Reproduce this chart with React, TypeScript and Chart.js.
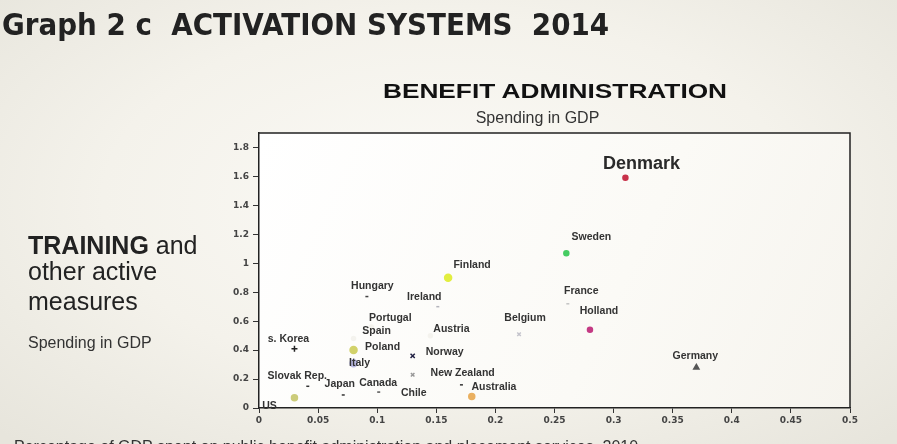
import React, { useEffect, useRef } from "react";
import { Chart, registerables } from "chart.js";

Chart.register(...registerables);

// ---------- data ----------
const countries = [
  "Denmark", "Sweden", "France", "Holland", "Belgium", "Germany", "Finland", "Ireland",
  "Hungary", "Portugal", "Spain", "Austria", "s. Korea", "Poland", "Italy", "Norway",
  "New Zealand", "Australia", "Chile", "Canada", "Japan", "Slovak Rep.", "US",
];
// benefit administration spending (% GDP) - x
const benefitAdmin = [
  0.31, 0.26, 0.26, 0.28, 0.22, 0.37, 0.16, 0.15,
  0.09, 0.095, 0.08, 0.145, 0.03, 0.08, 0.08, 0.13,
  0.13, 0.17, 0.18, 0.10, 0.07, 0.04, 0.03,
];
// training and other active measures (% GDP) - y
const trainingSpend = [
  1.59, 1.07, 0.72, 0.54, 0.51, 0.28, 0.90, 0.70,
  0.77, 0.56, 0.48, 0.50, 0.41, 0.40, 0.31, 0.36,
  0.23, 0.16, 0.08, 0.11, 0.09, 0.15, 0.07,
];
const xTickValues = [0, 0.05, 0.1, 0.15, 0.2, 0.25, 0.3, 0.35, 0.4, 0.45, 0.5];
const yTickValues = [0, 0.2, 0.4, 0.6, 0.8, 1, 1.2, 1.4, 1.6, 1.8];

// ---------- styling (separate from data) ----------
const markerStyles = [
  "circle", "circle", "dash", "circle", "crossRot", "triangle", "circle", "dash",
  "dash", "circle", "circle", "circle", "cross", "circle", "circle", "crossRot",
  "crossRot", "dash", "circle", "dash", "dash", "dash", "circle",
];
const markerColors = [
  "#c8324a", "#46cc62", "#c4c4c4", "#c43a84", "#c4c4cc", "#555555", "#e2ee40", "#b4b4bc",
  "#444444", "#f4f3ee", "#f4f3ee", "#f4f3ee", "#222222", "#d2d26a", "#bcbce6", "#222244",
  "#999999", "#333333", "#eab060", "#555555", "#333333", "#333333", "#cccc7a",
];
const markerRadii = [
  2.5, 2.5, 3, 2.5, 2.5, 3, 3.5, 3,
  3, 2, 2, 2, 3, 3.5, 3.5, 3,
  2.5, 3, 3, 3, 3, 3, 3,
];
const labelDx = [
  16, 25, 15, 9, 6, -1, 24, -12,
  7, 19, 23, 21, -6, 29, 6, 32,
  50, 34, -58, 1, -2, -9, -25,
];
const labelDy = [
  -14, -16, -13, -19, -16, -11, -13, -10,
  -10, -9, -7, -7, -10, -3, 0, -4,
  -2, 2, -3, -9, -11, -10, 8,
];

const labelPlugin = {
  id: "countryLabels",
  afterDatasetsDraw(chart: any) {
    const ctx = chart.ctx;
    const meta = chart.getDatasetMeta(0);
    ctx.save();
    ctx.textAlign = "center";
    ctx.textBaseline = "middle";
    meta.data.forEach((pt: any, i: number) => {
      const big = i === 0;
      ctx.font = big ? "bold 18px 'Liberation Sans', Arial, sans-serif" : "bold 10.5px 'Liberation Sans', Arial, sans-serif";
      ctx.fillStyle = big ? "#2a2a2a" : "#333333";
      ctx.fillText(countries[i], pt.x + labelDx[i], pt.y + labelDy[i]);
    });
    ctx.restore();
  },
};

const areaPlugin = {
  id: "areaBg",
  beforeDraw(chart: any) {
    const { ctx, chartArea: a } = chart;
    ctx.save();
    const g = ctx.createLinearGradient(a.left, a.top, a.right, a.bottom);
    g.addColorStop(0, "#ffffff");
    g.addColorStop(0.6, "#fbfaf6");
    g.addColorStop(1, "#f6f4ee");
    ctx.fillStyle = g;
    ctx.fillRect(a.left, a.top, a.right - a.left, a.bottom - a.top);
    ctx.restore();
  },
  afterDraw(chart: any) {
    const { ctx, chartArea: a } = chart;
    ctx.save();
    ctx.strokeStyle = "#222222";
    ctx.lineWidth = 1.5;
    ctx.beginPath();
    ctx.moveTo(a.left, a.top);
    ctx.lineTo(a.right, a.top);
    ctx.lineTo(a.right, a.bottom);
    ctx.stroke();
    ctx.restore();
  },
};

function ScatterChart() {
  const ref = useRef<HTMLCanvasElement | null>(null);
  useEffect(() => {
    if (!ref.current) return;
    const points = benefitAdmin.map((x, i) => ({ x, y: trainingSpend[i] }));
    const tickFont = { family: "'DejaVu Sans', sans-serif", size: 9, weight: "bold" as const };
    const chart = new Chart(ref.current, {
      type: "scatter",
      data: {
        datasets: [
          {
            data: points,
            pointStyle: markerStyles as any,
            pointRadius: markerRadii,
            pointBackgroundColor: markerColors,
            pointBorderColor: markerColors,
            pointBorderWidth: 1.5,
          },
        ],
      },
      options: {
        animation: false,
        responsive: false,
        maintainAspectRatio: false,
        layout: { padding: { left: 200, top: 133, right: 47, bottom: 10 } },
        plugins: { legend: { display: false }, tooltip: { enabled: false } },
        scales: {
          x: {
            type: "linear",
            min: 0,
            max: 0.5,
            afterBuildTicks: (s: any) => {
              s.ticks = xTickValues.map((v) => ({ value: v }));
            },
            afterFit: (s: any) => {
              s.height = 26;
            },
            ticks: {
              color: "#444444",
              font: tickFont,
              padding: 2,
              maxRotation: 0,
              autoSkip: false,
              callback: (v: any) => String(v),
            },
            grid: { drawOnChartArea: false, drawTicks: true, tickLength: 5, color: "#333333" },
            border: { display: true, color: "#222222", width: 1.5 },
          },
          y: {
            type: "linear",
            min: 0,
            max: 1.9,
            afterBuildTicks: (s: any) => {
              s.ticks = yTickValues.map((v) => ({ value: v }));
            },
            afterFit: (s: any) => {
              s.width = 59;
            },
            ticks: {
              color: "#444444",
              font: tickFont,
              padding: 4,
              autoSkip: false,
              callback: (v: any) => String(v),
            },
            grid: { drawOnChartArea: false, drawTicks: true, tickLength: 6, color: "#333333" },
            border: { display: true, color: "#222222", width: 1.5 },
          },
        },
      },
      plugins: [areaPlugin, labelPlugin],
    });
    return () => chart.destroy();
  }, []);
  return (
    <canvas
      ref={ref}
      width={897}
      height={444}
      style={{ position: "absolute", left: 0, top: 0, width: 897, height: 444 }}
    />
  );
}

const sans = "'Liberation Sans', Arial, sans-serif";

function Line(props: { top: number; left?: number; size: number; children: any; style?: any }) {
  return (
    <div
      style={{
        position: "absolute",
        top: props.top,
        left: props.left ?? 0,
        fontSize: props.size,
        lineHeight: props.size + "px",
        height: props.size,
        whiteSpace: "pre",
        fontFamily: sans,
        color: "#222",
        ...props.style,
      }}
    >
      {props.children}
    </div>
  );
}

export default function App() {
  return (
    <div
      style={{
        position: "fixed",
        left: 0,
        top: 0,
        width: 897,
        height: 444,
        overflow: "hidden",
        background:
          "radial-gradient(ellipse 70% 75% at 50% 45%, #fbfaf6 0%, #f4f2eb 55%, #e7e5dc 100%)",
      }}
    >
      <ScatterChart />
      <Line
        top={9.6}
        left={2}
        size={30}
        style={{
          fontFamily: "'DejaVu Sans', sans-serif",
          fontWeight: "bold",
          color: "#222",
          transform: "scaleX(0.925)",
          transformOrigin: "0 0",
        }}
      >
        {"Graph 2 c  ACTIVATION SYSTEMS  2014"}
      </Line>
      <Line
        top={80}
        left={555}
        size={21}
        style={{ fontWeight: "bold", color: "#111", transform: "translateX(-50%) scaleX(1.25)", transformOrigin: "50% 0" }}
      >
        BENEFIT ADMINISTRATION
      </Line>
      <Line top={109.5} left={0} size={16} style={{ width: 1075, textAlign: "center", color: "#333" }}>
        Spending in GDP
      </Line>
      <Line top={233} left={28} size={25}>
        <b>TRAINING</b> and
      </Line>
      <Line top={259} left={28} size={25}>
        other active
      </Line>
      <Line top={289} left={28} size={25}>
        measures
      </Line>
      <Line top={334.5} left={28} size={16} style={{ color: "#333" }}>
        Spending in GDP
      </Line>
      <Line top={438.5} left={4} size={16} style={{ color: "#333" }}>
        {"• Percentage of GDP spent on public benefit administration and placement services, 2010"}
      </Line>
    </div>
  );
}
